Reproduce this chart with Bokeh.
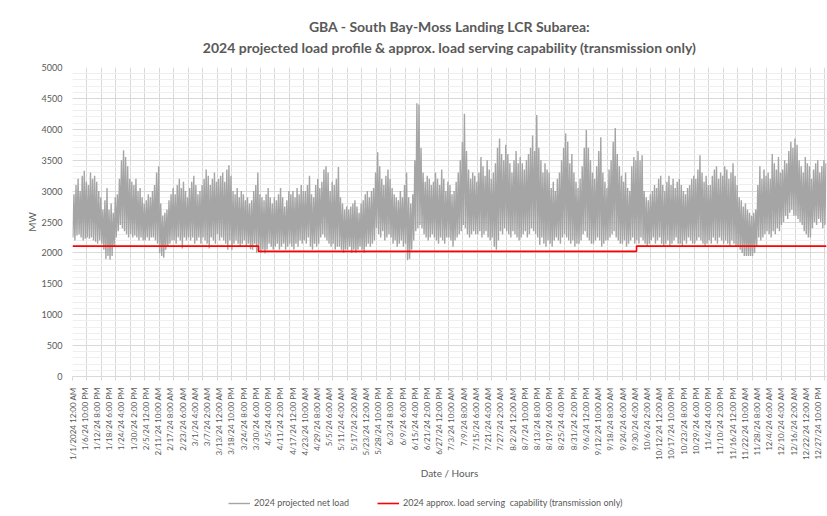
import math
from bokeh.plotting import figure
from bokeh.layouts import column
from bokeh.models import FixedTicker, Title, Legend, LegendItem, Range1d
from bokeh.embed import file_html
from bokeh.resources import INLINE

# ---------------- data ----------------
title_line1 = "GBA - South Bay-Moss Landing LCR Subarea:"
title_line2 = "2024 projected load profile & approx. load serving capability (transmission only)"

tick_labels = [
    "1/1/2024 12:00 AM", "1/6/24 10:00 PM", "1/12/24 8:00 PM", "1/18/24 6:00 PM",
    "1/24/24 4:00 PM", "1/30/24 2:00 PM", "2/5/24 12:00 PM", "2/11/24 10:00 AM",
    "2/17/24 8:00 AM", "2/23/24 6:00 AM", "3/1/24 4:00 AM", "3/7/24 2:00 AM",
    "3/13/24 12:00 AM", "3/18/24 10:00 PM", "3/24/24 8:00 PM", "3/30/24 6:00 PM",
    "4/5/24 4:00 PM", "4/11/24 2:00 PM", "4/17/24 12:00 PM", "4/23/24 10:00 AM",
    "4/29/24 8:00 AM", "5/5/24 6:00 AM", "5/11/24 4:00 AM", "5/17/24 2:00 AM",
    "5/23/24 12:00 AM", "5/28/24 10:00 PM", "6/3/24 8:00 PM", "6/9/24 6:00 PM",
    "6/15/24 4:00 PM", "6/21/24 2:00 PM", "6/27/24 12:00 PM", "7/3/24 10:00 AM",
    "7/9/24 8:00 AM", "7/15/24 6:00 AM", "7/21/24 4:00 AM", "7/27/24 2:00 AM",
    "8/2/24 12:00 AM", "8/7/24 10:00 PM", "8/13/24 8:00 PM", "8/19/24 6:00 PM",
    "8/25/24 4:00 PM", "8/31/24 2:00 PM", "9/6/24 12:00 PM", "9/12/24 10:00 AM",
    "9/18/24 8:00 AM", "9/24/24 6:00 AM", "9/30/24 4:00 AM", "10/6/24 2:00 AM",
    "10/12/24 12:00 AM", "10/17/24 10:00 PM", "10/23/24 8:00 PM", "10/29/24 6:00 PM",
    "11/4/24 4:00 PM", "11/10/24 2:00 PM", "11/16/24 12:00 PM", "11/22/24 10:00 AM",
    "11/28/24 8:00 AM", "12/4/24 6:00 AM", "12/10/24 4:00 AM", "12/16/24 2:00 AM",
    "12/22/24 12:00 AM", "12/27/24 10:00 PM",
]
label_every_hours = 142
grid_every_hours = 168
n_hours = 8760

# daily peak of the projected net load (MW), one value per day
daily_max = [
    2950, 3100, 3200, 3000, 3250, 3330, 3150,
    3100, 3300, 3200, 3250, 3150, 3000, 2900,
    2700, 2850, 3050, 2700, 2800, 2650, 2900,
    2950, 3200, 3500, 3660, 3550, 3400, 3200,
    3150, 3100, 3200, 3000, 3050, 2900, 2800,
    2850, 2950, 2900, 3000, 3100, 3300, 3400,
    2800, 2600, 2650, 2700, 2850, 2950, 3050,
    2950, 3100, 3200, 3050, 3150, 3000, 2900,
    3050, 3150, 3250, 3100, 2950, 3000, 3100,
    3200, 3350, 3250, 3100, 3200, 3300, 3150,
    3200, 3250, 3300, 3150, 3350, 3420, 3250,
    3000, 2950, 3050, 2900, 3000, 2950, 2850,
    2900, 2800, 2850, 3000, 3100, 3300, 2950,
    2900, 2850, 2950, 3050, 2900, 2800, 2900,
    2850, 2950, 3050, 2900, 2750, 2850, 3000,
    2950, 3000, 2900, 3050, 2950, 3100, 3000,
    3000, 3100, 3250, 2950, 2900, 3100, 3200,
    3050, 3150, 3350, 3400, 3300, 3000, 3150,
    3100, 3200, 3390, 2900, 2800, 2700, 2750,
    2700, 2750, 2800, 2850, 2750, 2650, 2800,
    2850, 2950, 3000, 2900, 3000, 3050, 3300,
    3630, 3400, 3200, 3100, 3250, 3350, 3200,
    3050, 2950, 2900, 2850, 3000, 2900, 3100,
    3300, 2900, 2800, 2950, 3500, 4420, 4400,
    3700, 3300, 3150, 3250, 3200, 3100, 3150,
    3300, 3200, 3100, 3350, 3200, 3000, 3150,
    3100, 2950, 3000, 3150, 3300, 3500, 3800,
    4250, 3650, 3350, 3200, 3300, 3250, 3150,
    3300, 3550, 3400, 3250, 3500, 3350, 3200,
    3300, 3450, 3700, 3850, 3600, 3500, 3750,
    3600, 3450, 3300, 3500, 3650, 3450, 3550,
    3450, 3350, 3500, 3600, 3700, 3900, 3650,
    4230, 3700, 3500, 3300, 3450, 3350, 3300,
    3050, 3150, 3000, 3200, 3300, 3500, 3700,
    3930, 3800, 3450, 3600, 3300, 3150, 3050,
    3200, 3400, 3700, 3990, 3700, 3500, 3300,
    3200, 3400, 3650, 3870, 3300, 3150, 3050,
    3350, 3500, 3800, 4020, 3600, 3400, 3250,
    3150, 3300, 3050, 3000, 3400, 3550, 3500,
    3650, 3500, 3580, 3000, 2900, 2850, 2950,
    3000, 3100, 3050, 3200, 3250, 3100, 3000,
    3150, 3250, 3100, 3200, 3050, 3150, 3200,
    3100, 3000, 2950, 3050, 3100, 3200, 3250,
    3200, 3350, 3580, 3300, 3150, 3250, 3100,
    3100, 3250, 3350, 3400, 3200, 3300, 3250,
    3400, 3350, 3200, 3300, 3450, 3250, 3100,
    2900, 2850, 2750, 2800, 2700, 2650, 2600,
    2650, 2700, 3100, 3400, 3200, 3350, 3250,
    3300, 3200, 3600, 3450, 3350, 3550, 3300,
    3350, 3500, 3450, 3650, 3800, 3700, 3850,
    3750, 3500, 3400, 3300, 3550, 3450, 3400,
    3200, 3350, 3450, 3500, 3300, 3400, 3500,
    3450,
]

# daily minimum of the projected net load (MW), one value per day
daily_min = [
    2250, 2200, 2280, 2300, 2250, 2200, 2230,
    2250, 2230, 2250, 2200, 2180, 2150, 2200,
    2150, 2050, 1900, 1950, 1890, 1950, 2100,
    2250, 2350, 2450, 2400, 2350, 2300, 2250,
    2300, 2250, 2280, 2250, 2200, 2250, 2200,
    2200, 2250, 2200, 2250, 2250, 2200, 2150,
    2000, 1950, 1920, 2050, 2100, 2150, 2200,
    2200, 2150, 2250, 2200, 2070, 2250, 2200,
    2250, 2200, 2250, 2150, 2200, 2250, 2150,
    2250, 2200, 2150, 2070, 2250, 2200, 2150,
    2300, 2200, 2250, 2200, 2150, 2050, 2200,
    2050, 2150, 2200, 2150, 2100, 2150, 2200,
    2100, 2150, 2060, 2050, 2150, 2000, 2050,
    2000, 2050, 1990, 2050, 2150, 2100, 2050,
    2100, 2150, 2050, 2100, 2150, 2050, 2100,
    2150, 2100, 2050, 2150, 2100, 2200, 2150,
    2200, 2150, 2250, 2100, 2050, 2150, 2100,
    2150, 2250, 2300, 2250, 2200, 2150, 2100,
    2150, 2050, 2100, 2100, 2050, 2000, 2050,
    2050, 2100, 2000, 2050, 2000, 2050, 2100,
    2050, 2000, 2100, 2150, 2100, 2150, 2200,
    2400, 2300, 2250, 2350, 2200, 2250, 2300,
    2250, 2150, 2200, 2100, 2150, 2200, 2100,
    2150, 1880, 1900, 2050, 2200, 2350, 2400,
    2450, 2400, 2300, 2250, 2200, 2250, 2300,
    2250, 2200, 2150, 2250, 2200, 2150, 2250,
    2250, 2200, 2100, 2200, 2250, 2300, 2350,
    2450, 2400, 2300, 2250, 2300, 2350, 2300,
    2300, 2350, 2250, 2300, 2350, 2250, 2200,
    2250, 2100, 2050, 2200, 2350, 2300, 2400,
    2350, 2300, 2250, 2350, 2300, 2250, 2200,
    2250, 2300, 2350, 2250, 2300, 2400, 2350,
    2300, 2250, 2130, 2250, 2150, 2100, 2200,
    2150, 2100, 2200, 2250, 2200, 2150, 2250,
    2300, 2250, 2200, 2150, 2200, 2100, 2150,
    2150, 2200, 2300, 2350, 2250, 2200, 2150,
    2150, 2200, 2250, 2200, 2100, 2150, 2200,
    2200, 2250, 2300, 2350, 2250, 2200, 2150,
    2150, 2200, 2100, 2150, 2200, 2250, 2150,
    2200, 2150, 2250, 2200, 2150, 2100, 2150,
    2200, 2250, 2150, 2200, 2250, 2150, 2100,
    2150, 2200, 2100, 2150, 2200, 2250, 2150,
    2150, 2100, 2200, 2150, 2250, 2200, 2150,
    2150, 2200, 2250, 2200, 2150, 2100, 2150,
    2200, 2150, 2250, 2200, 2150, 2250, 2200,
    2150, 2200, 2150, 2100, 2200, 2150, 2100,
    2100, 2050, 2000, 1950, 1950, 1950, 1950,
    1950, 2000, 2100, 2250, 2200, 2250, 2300,
    2350, 2300, 2250, 2350, 2300, 2400, 2350,
    2450, 2500, 2600, 2550, 2650, 2700, 2600,
    2600, 2550, 2500, 2450, 2350, 2300, 2250,
    2250, 2400, 2500, 2450, 2550, 2500, 2400,
    2450,
]

# approx. load serving capability (transmission only), step values
cap_start_hour = [0, 2160, 6552]      # Jan 1, Apr 1, Oct 1
cap_mw = [2110, 2025, 2110]

legend_load = "2024 projected net load"
legend_cap = "2024 approx. load serving  capability (transmission only)"

# ---------------- build series ----------------
load_x, load_y = [], []
for d, (lo, hi) in enumerate(zip(daily_min, daily_max)):
    load_x += [d * 24 + 4, d * 24 + 17]
    load_y += [lo, hi]

cap_x = cap_start_hour + [n_hours - 1]
cap_y = cap_mw + [cap_mw[-1]]

label_pos = [i * label_every_hours for i in range(len(tick_labels))]
grid_pos = [i * grid_every_hours for i in range(n_hours // grid_every_hours + 1)]

FONT = "Lato"
TXT = "#595959"
LOAD_STYLE = dict(line_color="#a5a5a5", line_width=1.4)
CAP_STYLE = dict(line_color="#ff0000", line_width=1.6)

# ---------------- main chart ----------------
p = figure(frame_width=754, frame_height=309, output_backend="svg", toolbar_location=None,
           x_range=Range1d(0, n_hours - 1), y_range=Range1d(0, 5000),
           min_border_left=72, min_border_right=1, min_border_top=67,
           min_border_bottom=114, title=None)
p.outline_line_color = None
p.background_fill_color = "white"
p.border_fill_color = "white"

p.line(load_x, load_y, **LOAD_STYLE)
p.step(cap_x, cap_y, mode="after", **CAP_STYLE)

# x axis
xa = p.xaxis[0]
xa.ticker = FixedTicker(ticks=label_pos, minor_ticks=grid_pos)
xa.major_label_overrides = {pos: lab for pos, lab in zip(label_pos, tick_labels)}
xa.major_label_orientation = math.pi / 2
xa.major_label_text_font = FONT
xa.major_label_text_font_size = "8px"
xa.major_label_text_color = TXT
xa.major_label_standoff = 5
xa.major_tick_line_color = None
xa.minor_tick_line_color = "#d9d9d9"
xa.minor_tick_in = 0
xa.minor_tick_out = 4
xa.axis_line_color = "#d9d9d9"
xa.axis_label = "Date / Hours"
xa.axis_label_text_font = FONT
xa.axis_label_text_font_size = "10px"
xa.axis_label_text_font_style = "normal"
xa.axis_label_text_color = TXT
xa.axis_label_standoff = 4

# y axis
ya = p.yaxis[0]
ya.ticker = FixedTicker(ticks=list(range(0, 5001, 500)), minor_ticks=list(range(0, 5001, 100)))
ya.major_label_text_font = FONT
ya.major_label_text_font_size = "9px"
ya.major_label_text_color = TXT
ya.major_label_standoff = 4
ya.major_tick_line_color = None
ya.minor_tick_line_color = None
ya.axis_line_color = None
ya.axis_label = "MW"
ya.axis_label_text_font = FONT
ya.axis_label_text_font_size = "10px"
ya.axis_label_text_font_style = "normal"
ya.axis_label_text_color = TXT
ya.axis_label_standoff = 1

# grids
p.xgrid.ticker = FixedTicker(ticks=grid_pos)
p.xgrid.grid_line_color = "#d9d9d9"
p.ygrid.ticker = FixedTicker(ticks=list(range(0, 5001, 500)), minor_ticks=list(range(0, 5001, 100)))
p.ygrid.grid_line_color = "#d9d9d9"
p.ygrid.minor_grid_line_color = "#efefef"

# two centred title lines; a small blank title keeps a gap above the frame
p.add_layout(Title(text=" ", text_font_size="8px", standoff=0), "above")
for txt in (title_line2, title_line1):
    p.add_layout(Title(text=txt, align="center", text_font=FONT, text_font_size="14px",
                       text_font_style="bold", text_color=TXT, standoff=2), "above")

# ---------------- legend strip below the chart ----------------
lf = figure(width=827, height=22, output_backend="svg", toolbar_location=None,
            x_range=Range1d(0, 1), y_range=Range1d(0, 1), min_border=0,
            x_axis_location=None, y_axis_location=None, title=None)
lf.grid.visible = False
lf.outline_line_color = None
lf.border_fill_color = "white"
# key renderers reuse the series (they fall outside this strip's ranges, so only the key shows)
key_load = lf.line(load_x[:2], load_y[:2], **LOAD_STYLE)
key_cap = lf.line(cap_x[:2], cap_y[:2], **CAP_STYLE)
legend = Legend(items=[LegendItem(label=legend_load, renderers=[key_load]),
                       LegendItem(label=legend_cap, renderers=[key_cap])],
                orientation="horizontal", location=(156, 4),
                label_text_font=FONT, label_text_font_size="9px", label_text_color=TXT,
                glyph_width=22, glyph_height=10, label_height=10, spacing=28,
                padding=0, margin=0, label_standoff=4,
                border_line_color=None, background_fill_alpha=0)
lf.add_layout(legend)

page = column(p, lf, spacing=0)
open("out.html", "w").write(file_html(page, INLINE))
